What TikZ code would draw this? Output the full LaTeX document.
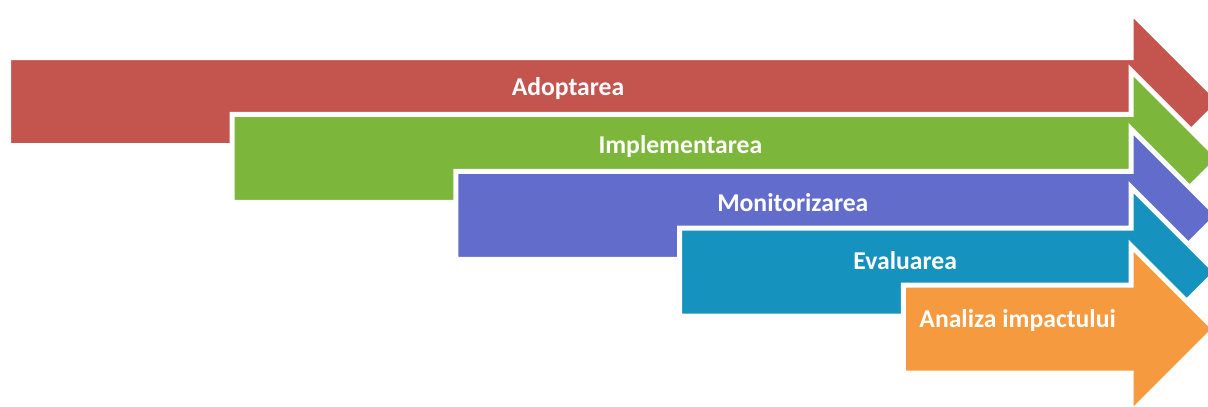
\documentclass[tikz,border=0pt]{standalone}
\usepackage{fontspec}
\setmainfont{Carlito}
\usepackage{tikz}

\definecolor{adoptred}{RGB}{196,84,78}
\definecolor{implgreen}{RGB}{124,182,58}
\definecolor{monblue}{RGB}{98,108,202}
\definecolor{evalteal}{RGB}{22,146,190}
\definecolor{impactorange}{RGB}{245,154,62}

\begin{document}
\begin{tikzpicture}[x=0.03cm,y=-0.03cm,
        stage/.style={draw=white,line width=0.15cm,line join=miter},
        stagetext/.style={text=white,font=\bfseries\fontsize{21.9}{26}\selectfont,anchor=base}
        ]
        \useasboundingbox (0,0) rectangle (1208,406);
        \clip (0,0) rectangle (1208,406);

        %Stacked arrows, each one drawn over the previous
        \foreach \colr/\lbl/\nm [count=\i from 0] in {adoptred/Adoptarea/adopt,
                implgreen/Implementarea/impl,
                monblue/Monitorizarea/mon,
                evalteal/Evaluarea/eval,
                impactorange/Analiza impactului/impact}{
            \pgfmathsetmacro{\xl}{8.5+223.7*\i}
            \pgfmathsetmacro{\yt}{57.5+56.9*\i}
            \pgfmathsetmacro{\yc}{\yt+44}
            \pgfmathsetmacro{\hh}{89.5-1.5*\i}
            \filldraw[stage,fill=\colr] (\xl,\yt) -- (1131,\yt) -- (1131,\yc-\hh) -- (1131+\hh,\yc)
                -- (1131,\yc+\hh) -- (1131,\yt+88) -- (\xl,\yt+88) -- cycle;
            \node[stagetext] (\nm) at (568+112.4*\i,95+58*\i) {\lbl};
        }
\end{tikzpicture}
\end{document}
